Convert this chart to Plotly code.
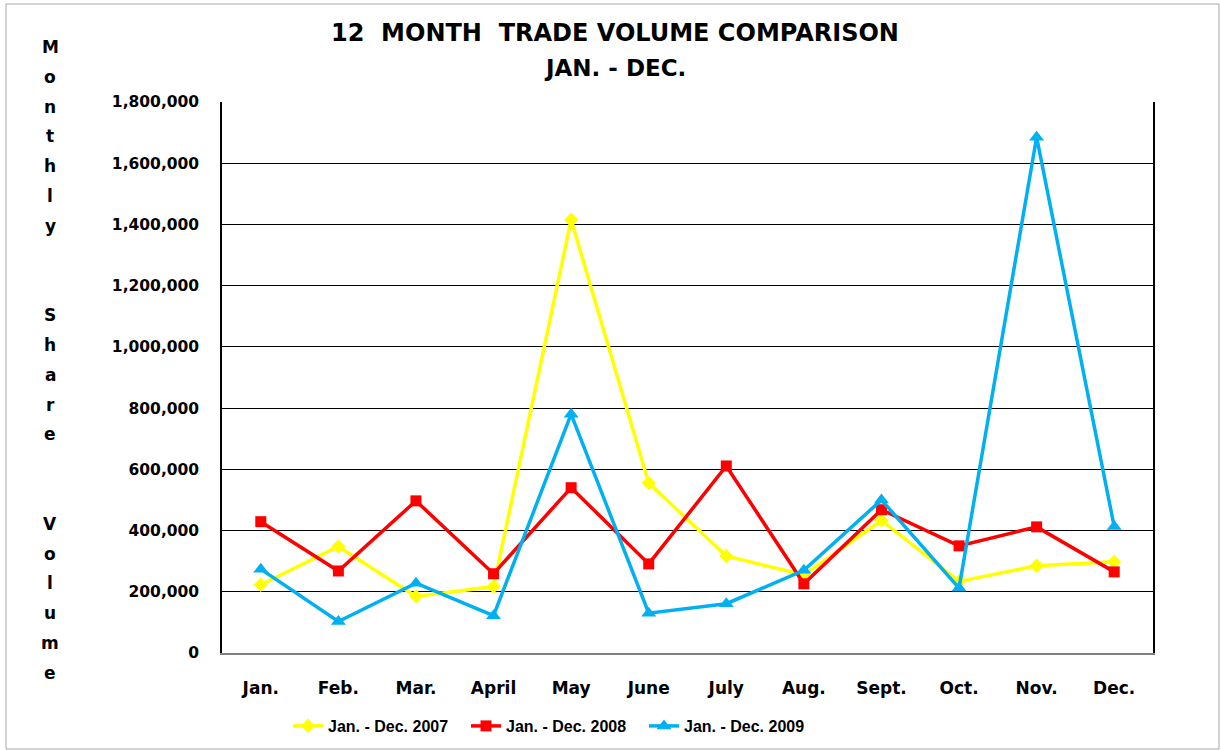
import plotly.graph_objects as go

months = ["Jan.", "Feb.", "Mar.", "April", "May", "June", "July", "Aug.", "Sept.", "Oct.", "Nov.", "Dec."]
vol_2007 = [223000, 348000, 185000, 217000, 1415000, 555000, 317000, 255000, 433000, 234000, 285000, 298000]
vol_2008 = [429000, 268000, 497000, 259000, 540000, 291000, 611000, 226000, 468000, 350000, 412000, 265000]
vol_2009 = [274000, 103000, 228000, 122000, 780000, 130000, 161000, 270000, 500000, 212000, 1685000, 413000]
series_names = ["Jan. - Dec. 2007", "Jan. - Dec. 2008", "Jan. - Dec. 2009"]
y_ticks = [0, 200000, 400000, 600000, 800000, 1000000, 1200000, 1400000, 1600000, 1800000]
y_title_letters = ["M", "o", "n", "t", "h", "l", "y", "", "", "S", "h", "a", "r", "e", "", "",
                   "V", "o", "l", "u", "m", "e"]

W, H = 1221, 750
L, R, T, B = 222, W - 1153, 102, H - 653
PW, PH = W - L - R, H - T - B


def px(x):
    return (x - L) / PW


def py(y):
    return (H - B - y) / PH


FONT = "DejaVu Sans"
fig = go.Figure()
fig.add_trace(go.Scatter(x=months, y=vol_2007, name="<b>%s</b>" % series_names[0], mode="lines+markers",
                         line=dict(color="#FFFF00", width=3.5),
                         marker=dict(symbol="diamond", size=11, color="#FFFF00")))
fig.add_trace(go.Scatter(x=months, y=vol_2008, name="<b>%s</b>" % series_names[1], mode="lines+markers",
                         line=dict(color="#FF0000", width=3.5),
                         marker=dict(symbol="square", size=11, color="#FF0000")))
fig.add_trace(go.Scatter(x=months, y=vol_2009, name="<b>%s</b>" % series_names[2], mode="lines+markers",
                         line=dict(color="#00B0F0", width=3.5),
                         marker=dict(symbol="triangle-up", size=13, color="#00B0F0")))

annotations = [
    dict(text="<b>12\u00a0\u00a0MONTH\u00a0\u00a0TRADE VOLUME COMPARISON</b>", x=px(615), y=py(33),
         xref="paper", yref="paper", showarrow=False, xanchor="center", yanchor="middle",
         font=dict(family=FONT, size=24, color="black")),
    dict(text="<b>JAN. - DEC.</b>", x=px(615), y=py(68),
         xref="paper", yref="paper", showarrow=False, xanchor="center", yanchor="middle",
         font=dict(family=FONT, size=23, color="black")),
]
for i, ch in enumerate(y_title_letters):
    if ch:
        annotations.append(dict(text="<b>%s</b>" % ch, x=px(50), y=py(47 + i * 29.8),
                                xref="paper", yref="paper", showarrow=False,
                                xanchor="center", yanchor="middle",
                                font=dict(family=FONT, size=17, color="black")))

fig.update_layout(
    width=W, height=H, autosize=False,
    margin=dict(l=L, r=R, t=T, b=B, autoexpand=False),
    paper_bgcolor="white", plot_bgcolor="white",
    showlegend=True,
    legend=dict(orientation="h", x=px(288), y=py(726), xanchor="left", yanchor="middle",
                entrywidth=133, entrywidthmode="pixels",
                font=dict(family="Liberation Sans Narrow, Liberation Sans, Arial", size=16, color="black"),
                bgcolor="rgba(0,0,0,0)"),
    annotations=annotations,
    shapes=[dict(type="rect", xref="paper", yref="paper", x0=px(6), x1=px(1219), y0=py(749), y1=py(4),
                 line=dict(color="#A6A6A6", width=1), layer="below")],
    xaxis=dict(range=[-0.5, 11.5], showgrid=False, showline=True, linecolor="#808080", linewidth=2,
               tickfont=dict(family=FONT, size=17, color="black"), ticklabelstandoff=19,
               tickprefix="<b>", ticksuffix="</b>", fixedrange=True, zeroline=False),
    yaxis=dict(range=[0, 1800000], tickvals=y_ticks, ticktext=["<b>%s</b>" % f"{v:,}" for v in y_ticks],
               showgrid=True, gridcolor="black", gridwidth=1, showline=True, linecolor="black",
               linewidth=1.5, mirror=True, zeroline=False,
               tickfont=dict(family=FONT, size=15.5, color="black"), ticklabelstandoff=18),
)

fig.write_html("out.html", config={"displayModeBar": False},
               post_script="document.body.style.margin='0';document.body.style.overflow='hidden';")
